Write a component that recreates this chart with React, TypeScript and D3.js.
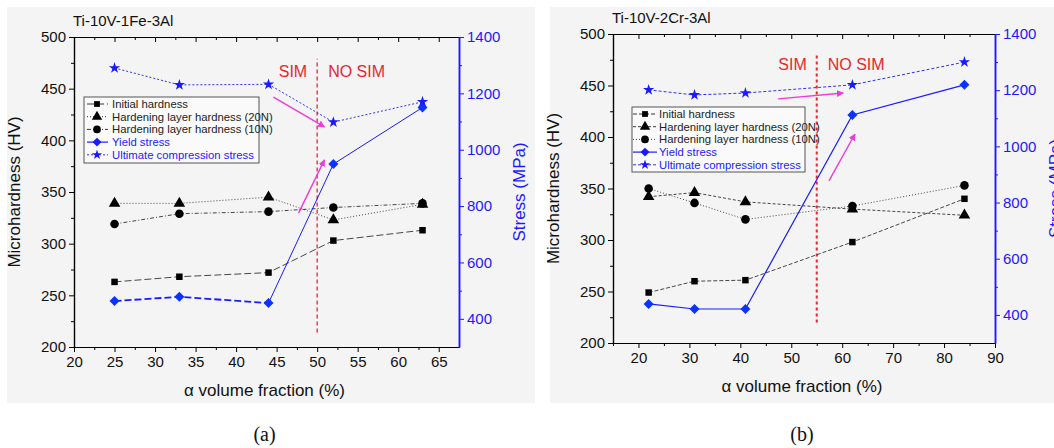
import React, { useEffect, useRef } from 'react';
import * as d3 from 'd3';

const W = 1054;
const H = 448;
const FONT = 'Arial, "Liberation Sans", sans-serif';
const BLUE = '#1a1aff';
const RED = '#e8262e';
const PINK = '#f03ad8';

const seriesNames = [
  'Initial hardness',
  'Hardening layer hardness (20N)',
  'Hardening layer hardness (10N)',
  'Yield stress',
  'Ultimate compression stress',
];

// (a) Ti-10V-1Fe-3Al
const fracA = [25, 33, 44, 52, 63];
const initialA = [263, 268, 272, 303, 313];
const layer20A = [339, 339, 345, 323, 338];
const layer10A = [319, 329, 331, 335, 339];
const yieldA = [463, 478, 456, 949, 1150];
const ucsA = [1290, 1230, 1232, 1098, 1170];

// (b) Ti-10V-2Cr-3Al
const fracB = [22, 31, 41, 62, 84];
const initialB = [249, 260, 261, 298, 340];
const layer20B = [342, 346, 337, 330, 324];
const layer10B = [350, 336, 320, 333, 353];
const yieldB = [439, 421, 421, 1112, 1219];
const ucsB = [1201, 1183, 1190, 1219, 1300];

const hvTicks = d3.range(200, 501, 50);
const stressTicks = d3.range(400, 1401, 200);

const panels = [
  {
    title: 'Ti-10V-1Fe-3Al', tag: '(a)',
    bg: [7, 7, 528, 396],
    left: 74, right: 459, top: 37, bottom: 347,
    xDomain: [20, 67.5], xTicks: d3.range(20, 66, 5), xMinor: d3.range(22.5, 67, 5),
    frac: fracA, hv: [initialA, layer20A, layer10A], stress: [yieldA, ucsA],
    dashes: ['7,3', '1,2', '4,2,1,2', null, '2,2'],
    yieldDashedTo: 2,
    simX: 50, simFrom: 214, simTo: 479, simLabelY: 461, simWidth: 1.3, simDash: '4,3',
    // arrows: [x0, stress0, x1, stress1]
    arrows: [[44.6, 1187, 50.9, 1081], [47.7, 775, 50.9, 964]],
    legend: { x: 84, y: 97, w: 175, h: 66, lineX0: 87, lineX1: 108, markX: 97, textX: 112 },
  },
  {
    title: 'Ti-10V-2Cr-3Al', tag: '(b)',
    bg: [550, 7, 504, 396],
    left: 613, right: 995, top: 34, bottom: 343,
    xDomain: [15, 90], xTicks: d3.range(20, 91, 10), xMinor: d3.range(15, 90, 10),
    frac: fracB, hv: [initialB, layer20B, layer10B], stress: [yieldB, ucsB],
    dashes: ['4,2', '3,2', '1,2', null, '3,2'],
    yieldDashedTo: 0,
    simX: 55, simFrom: 220, simTo: 482, simLabelY: 465, simWidth: 2, simDash: '3,3',
    arrows: [[47.4, 1169, 60.2, 1190], [57.4, 877, 62.5, 1044]],
    legend: { x: 632, y: 107, w: 173, h: 65, lineX0: 633, lineX1: 657, markX: 645, textX: 659 },
  },
];

// diamond is drawn as a square turned 45 degrees
const symbols = [d3.symbolSquare, d3.symbolTriangle, d3.symbolCircle, d3.symbolSquare, d3.symbolStar];
const symSizes = [42, 58, 58, 50, 40];
const symRot = [0, 0, 0, 45, 0];

export default function App() {
  const ref = useRef<SVGSVGElement>(null);

  useEffect(() => {
    const svg = d3.select(ref.current);
    svg.selectAll('*').remove();
    svg.append('rect').attr('width', W).attr('height', H).attr('fill', '#fff');

    const defs = svg.append('defs');
    defs.append('marker')
      .attr('id', 'pinkhead')
      .attr('viewBox', '0 0 10 10')
      .attr('refX', 9).attr('refY', 5)
      .attr('markerWidth', 7).attr('markerHeight', 7)
      .attr('markerUnits', 'userSpaceOnUse')
      .attr('orient', 'auto')
      .append('path').attr('d', 'M0,0 L10,5 L0,10 z').attr('fill', PINK);

    panels.forEach((p) => {
      const g = svg.append('g').attr('font-family', FONT);
      g.append('rect')
        .attr('x', p.bg[0]).attr('y', p.bg[1]).attr('width', p.bg[2]).attr('height', p.bg[3])
        .attr('fill', '#f4f4f4');

      const x = d3.scaleLinear().domain(p.xDomain).range([p.left, p.right]);
      const yH = d3.scaleLinear().domain([200, 500]).range([p.bottom, p.top]);
      const yS = d3.scaleLinear().domain([300, 1400]).range([p.bottom, p.top]);

      // SIM boundary
      g.append('line')
        .attr('x1', x(p.simX)).attr('x2', x(p.simX))
        .attr('y1', yH(p.simFrom)).attr('y2', yH(p.simTo))
        .attr('stroke', RED).attr('stroke-width', p.simWidth).attr('stroke-dasharray', p.simDash);
      g.append('text').attr('x', x(p.simX) - 10).attr('y', yH(p.simLabelY))
        .attr('text-anchor', 'end').attr('font-size', 16).attr('fill', RED).text('SIM');
      g.append('text').attr('x', x(p.simX) + 11).attr('y', yH(p.simLabelY))
        .attr('text-anchor', 'start').attr('font-size', 16).attr('fill', RED).text('NO SIM');

      // arrows
      p.arrows.forEach((a) => {
        g.append('line')
          .attr('x1', x(a[0])).attr('y1', yS(a[1]))
          .attr('x2', x(a[2])).attr('y2', yS(a[3]))
          .attr('stroke', PINK).attr('stroke-width', 1.4)
          .attr('marker-end', 'url(#pinkhead)');
      });

      // series
      const all = [
        ...p.hv.map((vals) => ({ vals, y: yH, color: '#333' })),
        ...p.stress.map((vals) => ({ vals, y: yS, color: BLUE })),
      ];
      all.forEach((s, i) => {
        const pts = s.vals.map((v, j) => [x(p.frac[j]), s.y(v)] as [number, number]);
        const line = d3.line();
        if (i === 3 && p.yieldDashedTo > 0) {
          g.append('path').attr('d', line(pts.slice(0, p.yieldDashedTo + 1)))
            .attr('fill', 'none').attr('stroke', BLUE).attr('stroke-width', 1.8)
            .attr('stroke-dasharray', '7,3');
          g.append('path').attr('d', line(pts.slice(p.yieldDashedTo)))
            .attr('fill', 'none').attr('stroke', BLUE).attr('stroke-width', 1);
        } else {
          g.append('path').attr('d', line(pts))
            .attr('fill', 'none').attr('stroke', s.color)
            .attr('stroke-width', i === 3 ? 1.2 : 0.9)
            .attr('stroke-dasharray', p.dashes[i]);
        }
        const sym = d3.symbol(symbols[i], symSizes[i]);
        g.append('g').selectAll('path').data(pts).join('path')
          .attr('transform', (d) => `translate(${d[0]},${d[1]}) rotate(${symRot[i]})`)
          .attr('d', sym())
          .attr('fill', i < 3 ? '#000' : (i === 3 ? '#0a33ff' : BLUE));
      });

      // axes
      const bottom = g.append('g').attr('transform', `translate(0,${p.bottom})`)
        .call(d3.axisBottom(x).tickValues(p.xTicks).tickSize(5).tickSizeOuter(0).tickPadding(4));
      g.append('g').attr('transform', `translate(0,${p.bottom})`)
        .call(d3.axisBottom(x).tickValues(p.xMinor).tickSize(3).tickSizeOuter(0).tickFormat(() => ''));
      g.append('g').attr('transform', `translate(0,${p.top})`)
        .call(d3.axisTop(x).tickValues(p.xTicks).tickSize(-5).tickSizeOuter(0).tickFormat(() => ''));
      g.append('g').attr('transform', `translate(0,${p.top})`)
        .call(d3.axisTop(x).tickValues(p.xMinor).tickSize(-3).tickSizeOuter(0).tickFormat(() => ''));
      const leftAx = g.append('g').attr('transform', `translate(${p.left},0)`)
        .call(d3.axisLeft(yH).tickValues(hvTicks).tickSize(5).tickSizeOuter(0).tickPadding(3));
      g.append('g').attr('transform', `translate(${p.left},0)`)
        .call(d3.axisLeft(yH).tickValues(d3.range(225, 500, 50)).tickSize(3).tickSizeOuter(0).tickFormat(() => ''));
      const rightAx = g.append('g').attr('transform', `translate(${p.right},0)`)
        .call(d3.axisRight(yS).tickValues(stressTicks).tickFormat(d3.format('d')).tickSize(5).tickSizeOuter(0).tickPadding(3));
      const rightMinor = g.append('g').attr('transform', `translate(${p.right},0)`)
        .call(d3.axisRight(yS).tickValues(d3.range(500, 1400, 200)).tickSize(3).tickSizeOuter(0).tickFormat(() => ''));

      g.selectAll('.domain').attr('stroke', '#000').attr('stroke-width', 1.2);
      g.selectAll('.tick line').attr('stroke', '#000');
      [bottom, leftAx].forEach((a) => a.selectAll('text').attr('font-size', 15).attr('font-family', FONT).attr('fill', '#111'));
      rightAx.selectAll('text').attr('font-size', 15).attr('font-family', FONT).attr('fill', BLUE);
      [rightAx, rightMinor].forEach((a) => {
        a.select('.domain').attr('stroke', BLUE).attr('stroke-width', 1.5);
        a.selectAll('.tick line').attr('stroke', BLUE);
      });

      // axis titles
      const midY = (p.top + p.bottom) / 2;
      g.append('text').attr('transform', `translate(${p.left - 54},${midY}) rotate(-90)`)
        .attr('text-anchor', 'middle').attr('font-size', 17).attr('fill', '#111').text('Microhardness (HV)');
      g.append('text').attr('transform', `translate(${p.right + 66},${midY}) rotate(-90)`)
        .attr('text-anchor', 'middle').attr('font-size', 17).attr('fill', BLUE).text('Stress (MPa)');
      g.append('text').attr('x', (p.left + p.right) / 2 - 2).attr('y', p.bottom + 49)
        .attr('text-anchor', 'middle').attr('font-size', 17).attr('fill', '#111').text('α volume fraction (%)');
      g.append('text').attr('x', p.left - 1).attr('y', p.top - 11)
        .attr('font-size', 15).attr('fill', '#111').text(p.title);

      // legend
      const L = p.legend;
      const lg = g.append('g');
      lg.append('rect').attr('x', L.x).attr('y', L.y).attr('width', L.w).attr('height', L.h)
        .attr('fill', '#fafafa').attr('stroke', '#555').attr('stroke-width', 1);
      seriesNames.forEach((name, i) => {
        const yy = L.y + 7 + i * 12.7;
        const col = i < 3 ? '#222' : BLUE;
        lg.append('line').attr('x1', L.lineX0).attr('x2', L.lineX1).attr('y1', yy).attr('y2', yy)
          .attr('stroke', col).attr('stroke-width', i === 3 ? 1.2 : 0.9)
          .attr('stroke-dasharray', p.dashes[i]);
        lg.append('path').attr('transform', `translate(${L.markX},${yy}) rotate(${symRot[i]})`)
          .attr('d', d3.symbol(symbols[i], symSizes[i] * 0.8)())
          .attr('fill', i < 3 ? '#000' : BLUE);
        lg.append('text').attr('x', L.textX).attr('y', yy + 4)
          .attr('font-size', 11.3).attr('fill', i < 3 ? '#222' : BLUE).text(name);
      });

      svg.append('text').attr('x', (p.left + p.right) / 2 - 2).attr('y', 441)
        .attr('text-anchor', 'middle').attr('font-family', '"Liberation Serif", "Times New Roman", serif')
        .attr('font-size', 20).attr('fill', '#111').text(p.tag);
    });
  }, []);

  return (
    <svg ref={ref} width={W} height={H}
      style={{ position: 'absolute', left: 0, top: 0, display: 'block' }} />
  );
}
